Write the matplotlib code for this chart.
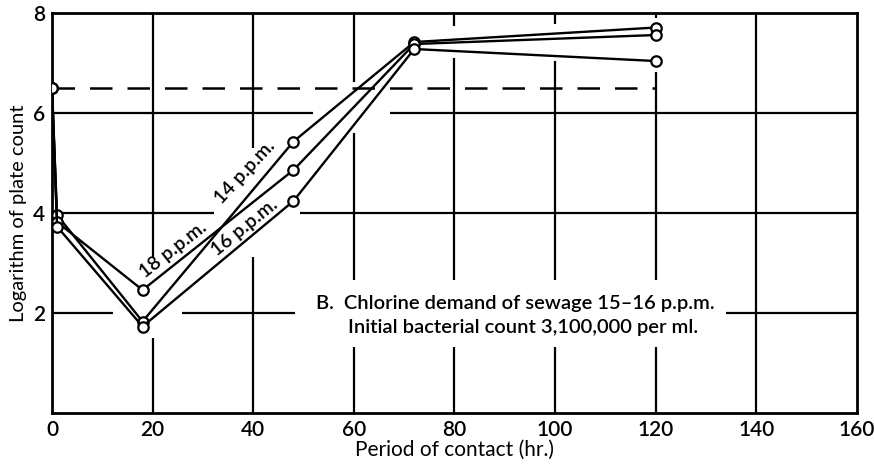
import matplotlib
matplotlib.use("Agg")
import matplotlib.pyplot as plt

# Period of contact (hr.) and log plate count for each chlorine dose
hours = [0, 1, 18, 48, 72, 120]
log_14ppm = [6.5, 3.96, 1.83, 5.43, 7.42, 7.71]
log_18ppm = [6.5, 3.82, 2.46, 4.86, 7.38, 7.56]
log_16ppm = [6.5, 3.73, 1.73, 4.24, 7.28, 7.04]

initial_log = 6.5           # dashed reference: initial count 3,100,000 per ml
initial_span = [0, 120]

x_ticks = [0, 20, 40, 60, 80, 100, 120, 140, 160]
y_ticks = [2, 4, 6, 8]

# hand-drawn grid: lines are broken where curves and labels pass
vgrid = {
    20: [(8, 3.1), (1.5, 0)],
    40: [(8, 5.3), (3.12, 0)],
    60: [(8, 6.62), (5.6, 2.66), (1.32, 0)],
    80: [(8, 7.75), (7.1, 2.66), (1.32, 0)],
    100: [(8, 7.78), (7.05, 2.66), (1.32, 0)],
    120: [(8, 7.9), (6.82, 2.66), (1.32, 0)],
    140: [(8, 0)],
}
hgrid = {
    2: [(0, 12.1), (25.8, 48.3), (134, 160)],
    4: [(0, 32.2), (49.3, 160)],
    6: [(0, 51.9), (67.2, 160)],
}

plt.rcParams["font.family"] = ["Lato", "DejaVu Sans"]
plt.rcParams["font.weight"] = "semibold"

fig = plt.figure(figsize=(8.74, 4.65), dpi=100)
ax = fig.add_axes([0.0595, 0.1118, 0.921, 0.8602])

ax.set_xlim(0, 160)
ax.set_ylim(0, 8)
ax.set_xticks(x_ticks)
ax.set_yticks(y_ticks)
ax.tick_params(length=0, labelsize=15, pad=5)
for s in ax.spines.values():
    s.set_linewidth(2)

for x, segs in vgrid.items():
    for y0, y1 in segs:
        ax.plot([x, x], [y0, y1], color="black", lw=1.6, zorder=0,
                solid_capstyle="butt")
for y, segs in hgrid.items():
    for x0, x1 in segs:
        ax.plot([x0, x1], [y, y], color="black", lw=1.6, zorder=0,
                solid_capstyle="butt")

ax.plot(initial_span, [initial_log, initial_log], color="black", lw=1.8,
        dashes=(9, 6), zorder=1)

for series in (log_14ppm, log_18ppm, log_16ppm):
    ax.plot(hours, series, color="black", lw=1.7, marker="o", ms=7.5,
            mfc="white", mec="black", mew=1.6, zorder=3)

lab = dict(ha="center", va="center", rotation_mode="anchor", fontsize=14,
           zorder=2)
ax.text(24.0, 3.26, "18 p.p.m.", rotation=38, **lab)
ax.text(38.4, 4.82, "14 p.p.m.", rotation=47, **lab)
ax.text(38.3, 3.72, "16 p.p.m.", rotation=39, **lab)

ax.text(52.5, 2.2, "B.  Chlorine demand of sewage 15\u201316 p.p.m.",
        fontsize=14.5, va="center", ha="left", zorder=2)
ax.text(58.8, 1.72, "Initial bacterial count 3,100,000 per ml.",
        fontsize=14.5, va="center", ha="left", zorder=2)

ax.set_xlabel("Period of contact (hr.)", fontsize=15, labelpad=0)
ax.set_ylabel("Logarithm of plate count", fontsize=14.5, labelpad=4)

fig.savefig("out.png", dpi=100)
